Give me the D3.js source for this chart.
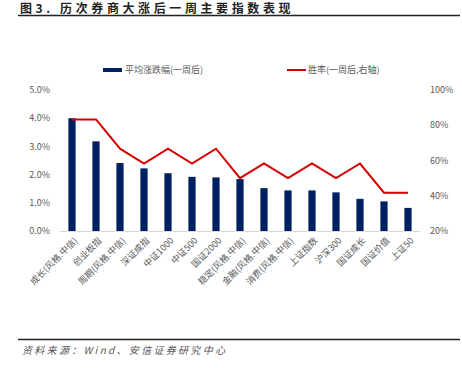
<!DOCTYPE html>
<html>
<head>
<meta charset="utf-8">
<script src="https://cdn.jsdelivr.net/npm/d3@7"></script>
<style>
  body { margin: 0; background: #fff; }
  svg { display: block; font-family: "Noto Sans CJK SC", "Noto Sans", sans-serif; }
</style>
</head>
<body>
<svg width="462" height="368"></svg>
<script>
  // data
  const categories = ['成长(风格.中信)', '创业板指', '周期(风格.中信)', '深证成指', '中证1000',
    '中证500', '国证2000', '稳定(风格.中信)', '金融(风格.中信)', '消费(风格.中信)',
    '上证指数', '沪深300', '国证成长', '国证价值', '上证50'];
  const avgReturn = [4.0, 3.18, 2.41, 2.22, 2.05, 1.92, 1.9, 1.84, 1.52, 1.44, 1.44, 1.37, 1.14, 1.05, 0.82];
  const winRate = [83.3, 83.3, 66.7, 58.3, 66.7, 58.3, 66.7, 50, 58.3, 50, 58.3, 50, 58.3, 41.7, 41.7];
  const leftTicks = [0, 1, 2, 3, 4, 5];
  const rightTicks = [20, 40, 60, 80, 100];

  const svg = d3.select('svg');
  const margin = {top: 90, right: 42, bottom: 137, left: 60};
  const width = 462 - margin.left - margin.right;
  const height = 368 - margin.top - margin.bottom;

  // title
  svg.append('text')
    .attr('x', 20).attr('y', 12.5)
    .attr('font-size', 12).attr('font-weight', 'bold')
    .attr('letter-spacing', 3.6)
    .attr('fill', '#222')
    .text('图3. 历次券商大涨后一周主要指数表现');
  svg.append('line')
    .attr('x1', 18).attr('x2', 460).attr('y1', 15.5).attr('y2', 15.5)
    .attr('stroke', '#222').attr('stroke-width', 1.5);

  const g = svg.append('g')
    .attr('transform', 'translate(' + margin.left + ',' + margin.top + ')');

  const x = d3.scaleBand().domain(categories).range([0, width]).paddingInner(0.7).paddingOuter(0.35);
  const yL = d3.scaleLinear().domain([0, 5]).range([height, 0]);
  const yR = d3.scaleLinear().domain([20, 100]).range([height, 0]);

  g.append('g')
    .selectAll('text')
    .data(leftTicks)
    .enter().append('text')
    .attr('x', -10)
    .attr('y', (d) => yL(d))
    .attr('dy', '0.35em')
    .attr('text-anchor', 'end')
    .attr('font-size', 9)
    .attr('fill', '#595959')
    .text((d) => d.toFixed(1) + '%');

  g.append('g')
    .selectAll('text')
    .data(rightTicks)
    .enter().append('text')
    .attr('x', width + 10)
    .attr('y', (d) => yR(d))
    .attr('dy', '0.35em')
    .attr('text-anchor', 'start')
    .attr('font-size', 9)
    .attr('fill', '#595959')
    .text((d) => d + '%');

  g.append('g')
    .selectAll('rect')
    .data(avgReturn)
    .enter().append('rect')
    .attr('x', (d, i) => x(categories[i]))
    .attr('y', (d) => yL(d))
    .attr('width', x.bandwidth())
    .attr('height', (d) => height - yL(d))
    .attr('fill', '#002060');

  g.append('line')
    .attr('x1', 0).attr('x2', width)
    .attr('y1', height + 0.5).attr('y2', height + 0.5)
    .attr('stroke', '#d9d9d9');

  const line = d3.line()
    .x((d, i) => x(categories[i]) + x.bandwidth() / 2)
    .y((d) => yR(d));

  g.append('path')
    .datum(winRate)
    .attr('d', line)
    .attr('fill', 'none')
    .attr('stroke', '#d40000')
    .attr('stroke-width', 2);

  // rotated category labels
  g.append('g')
    .selectAll('text')
    .data(categories)
    .enter().append('text')
    .attr('transform', (d) => 'translate(' + (x(d) + x.bandwidth() / 2 + 4) + ',' + (height + 8) + ') rotate(-45)')
    .attr('text-anchor', 'end')
    .attr('dy', '0.35em')
    .attr('font-size', 9)
    .attr('fill', '#595959')
    .text((d) => d);

  // legend
  const legend = svg.append('g').attr('font-size', 9).attr('fill', '#595959');
  legend.append('rect')
    .attr('x', 103).attr('y', 68).attr('width', 19).attr('height', 4)
    .attr('fill', '#002060');
  legend.append('text')
    .attr('x', 125).attr('y', 70).attr('dy', '0.35em')
    .text('平均涨跌幅(一周后)');
  legend.append('line')
    .attr('x1', 287).attr('x2', 306).attr('y1', 70).attr('y2', 70)
    .attr('stroke', '#d40000').attr('stroke-width', 2);
  legend.append('text')
    .attr('x', 308).attr('y', 70).attr('dy', '0.35em')
    .text('胜率(一周后,右轴)');

  // source
  svg.append('line')
    .attr('x1', 18).attr('x2', 460).attr('y1', 339.5).attr('y2', 339.5)
    .attr('stroke', '#222').attr('stroke-width', 1.5);
  svg.append('text')
    .attr('x', 22).attr('y', 354)
    .attr('font-size', 10).attr('font-style', 'italic')
    .attr('letter-spacing', 2.3)
    .attr('fill', '#555')
    .text('资料来源：Wind、安信证券研究中心');
</script>
</body>
</html>
